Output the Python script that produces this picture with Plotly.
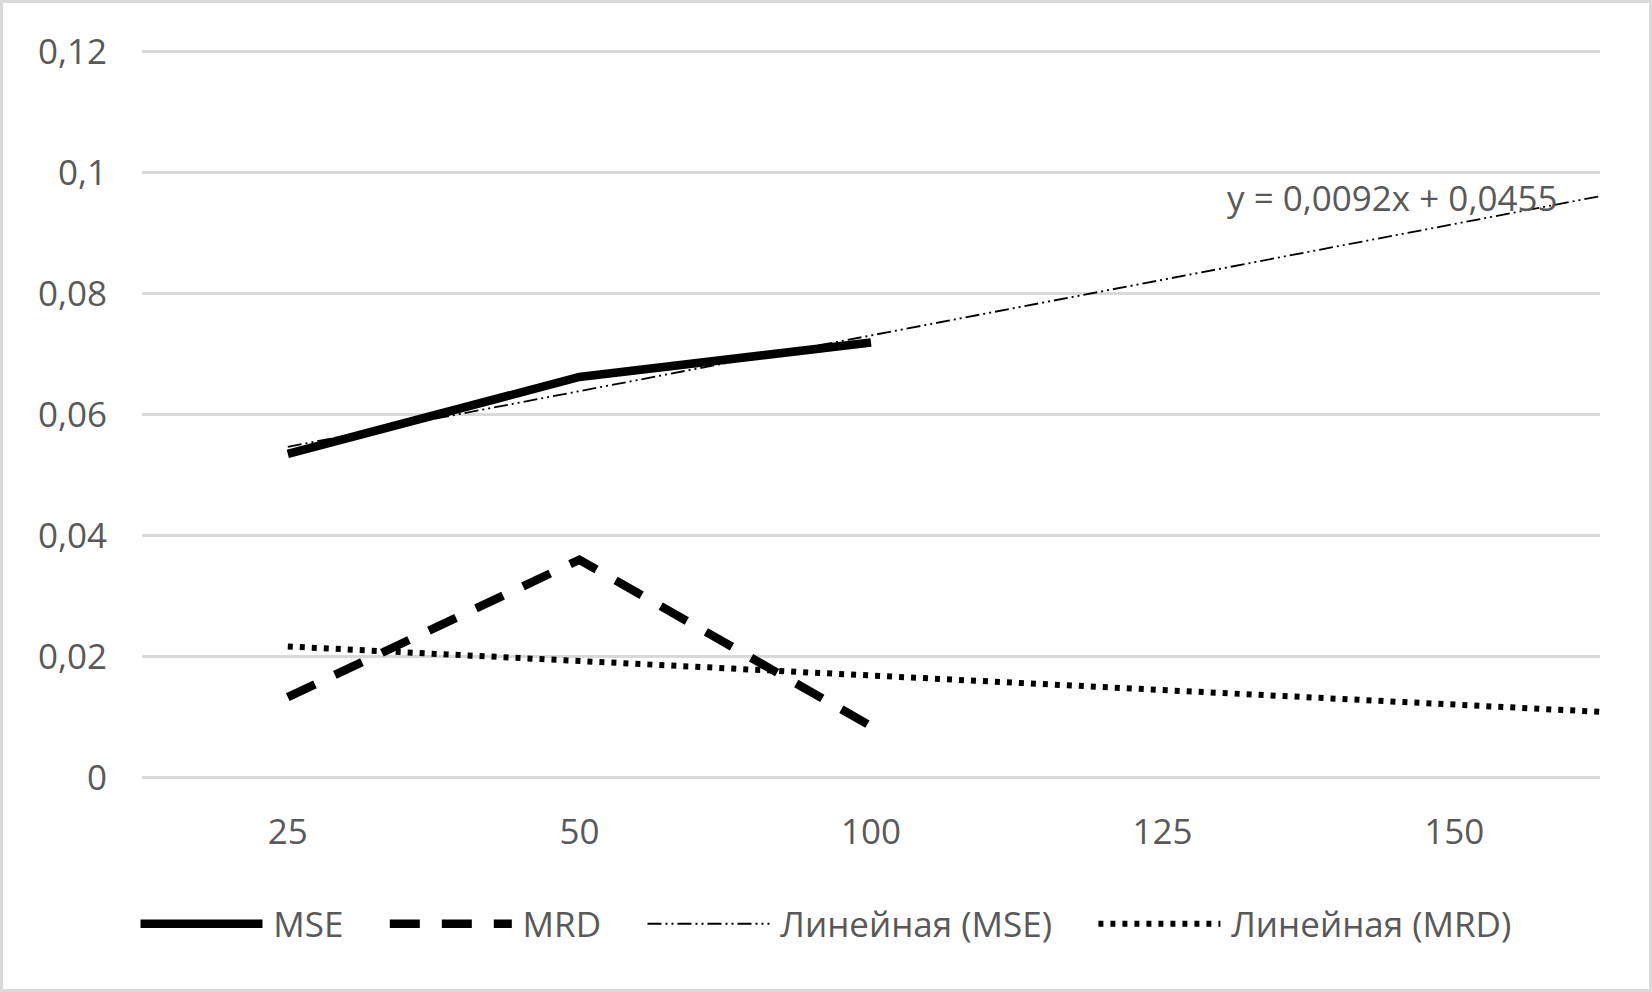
import numpy as np
import plotly.graph_objects as go

# ---- data ----
categories = ["25", "50", "100", "125", "150"]
mse_values = [0.0535, 0.0662, 0.0719]
mrd_values = [0.0133, 0.0360, 0.0085]
y_tick_vals = [0, 0.02, 0.04, 0.06, 0.08, 0.1, 0.12]
y_tick_text = ["0", "0,02", "0,04", "0,06", "0,08", "0,1", "0,12"]
series_names = ["MSE", "MRD", "Линейная (MSE)", "Линейная (MRD)"]
equation_text = "y = 0,0092x + 0,0455"
trend_forward = 0.5  # periods forecast forward (Excel trendline option)

W, H = 1652, 992
ML, MR, MT, MB = 142, 52, 49, 212
FONT = "Open Sans"
GREY = "#595959"
GRID = "#d9d9d9"
Y_PAD = 0.0004

idx_mse = list(range(len(mse_values)))
idx_mrd = list(range(len(mrd_values)))


def trend(values):
    x = np.arange(1, len(values) + 1)
    slope, intercept = np.polyfit(x, values, 1)
    x_end = len(categories) + trend_forward
    xs = np.array([1.0, x_end])
    return xs - 1, slope * xs + intercept


def legend_label(name, last=False):
    pad = "" if last else "\u00a0" * 4
    return "\u2009" + name + pad


tx_mse, ty_mse = trend(mse_values)
tx_mrd, ty_mrd = trend(mrd_values)

fig = go.Figure()
fig.add_trace(go.Scatter(x=idx_mse, y=mse_values, mode="lines", name=legend_label(series_names[0]),
                         line=dict(color="black", width=8.5)))
fig.add_trace(go.Scatter(x=idx_mrd, y=mrd_values, mode="lines", name=legend_label(series_names[1]),
                         line=dict(color="black", width=8.5, dash="30px,22px")))
fig.add_trace(go.Scatter(x=tx_mse, y=ty_mse, mode="lines", name=legend_label(series_names[2]),
                         line=dict(color="black", width=1.8, dash="14px,4px,2px,4px,2px,4px")))
fig.add_trace(go.Scatter(x=tx_mrd, y=ty_mrd, mode="lines", name=legend_label(series_names[3], True),
                         line=dict(color="black", width=6, dash="5px,7px")))

fig.add_annotation(x=4.36, y=0.0959, xref="x", yref="y", text=equation_text,
                   showarrow=False, xanchor="right", yanchor="middle",
                   font=dict(family=FONT, size=35, color=GREY))

# figure border
pw = W - ML - MR
ph = H - MT - MB
b = 1.5
fig.add_shape(type="rect", xref="paper", yref="paper",
              x0=(b - ML) / pw, x1=(W - b - ML) / pw,
              y0=-(H - b - MT - ph) / ph, y1=1 + (MT - b) / ph,
              line=dict(color=GRID, width=3), fillcolor="rgba(0,0,0,0)", layer="below")

fig.update_layout(
    width=W, height=H,
    margin=dict(l=ML, r=MR, t=MT, b=MB),
    paper_bgcolor="white", plot_bgcolor="white",
    font=dict(family=FONT, size=35, color=GREY),
    showlegend=True,
    legend=dict(orientation="h", xref="container", yref="container",
                x=0.5, xanchor="center", y=1 - 924 / H, yanchor="middle",
                itemwidth=122, font=dict(family=FONT, size=35, color=GREY),
                tracegroupgap=0, itemclick=False),
    xaxis=dict(range=[-0.5, len(categories) - 0.5], tickvals=list(range(len(categories))),
               ticktext=categories, showgrid=False, zeroline=False, showline=False,
               ticks="", ticklabelstandoff=28, tickfont=dict(size=35, color=GREY)),
    yaxis=dict(range=[-Y_PAD, 0.12 + Y_PAD], tickvals=y_tick_vals, ticktext=y_tick_text,
               showgrid=True, gridcolor=GRID, gridwidth=2.5, zeroline=False,
               showline=False, ticks="", ticklabelstandoff=34,
               tickfont=dict(size=35, color=GREY)),
)

fig.write_html("out.html", config={"displayModeBar": False},
               post_script="document.body.style.margin='0';")
